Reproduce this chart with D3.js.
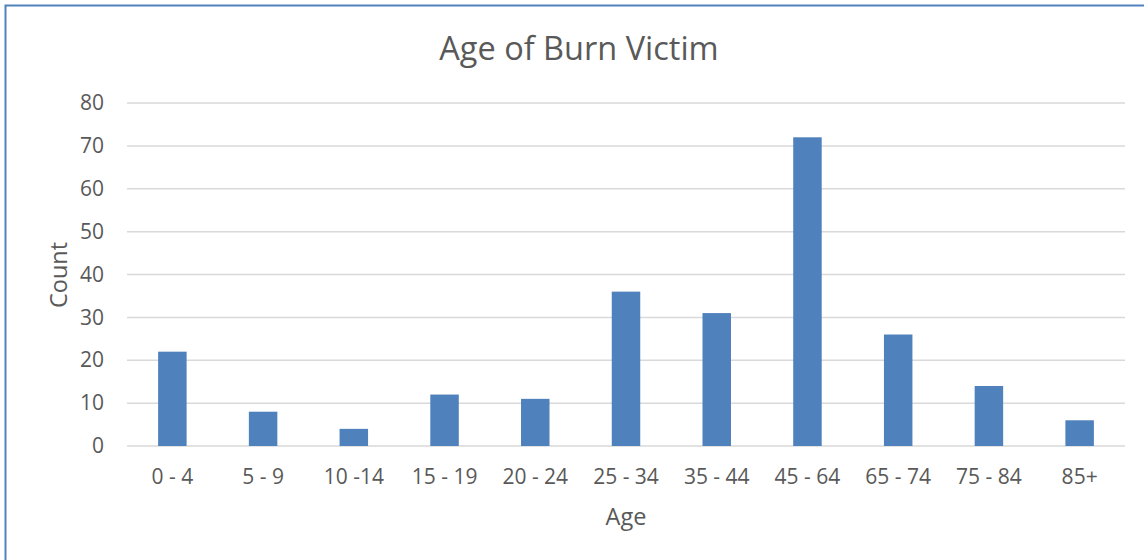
<!DOCTYPE html>
<html><head><meta charset="utf-8">
<script src="https://cdn.jsdelivr.net/npm/d3@7"></script>
<style>body{margin:0;background:#fff}svg{display:block}</style>
</head><body>
<script>
const categories = ["0 - 4","5 - 9","10 -14","15 - 19","20 - 24","25 - 34","35 - 44","45 - 64","65 - 74","75 - 84","85+"];
const counts = [22, 8, 4, 12, 11, 36, 31, 72, 26, 14, 6];
const yTicks = [0,10,20,30,40,50,60,70,80];
const title = "Age of Burn Victim";
const xTitle = "Age";
const yTitle = "Count";

(function () {
const W = 1144, H = 560;
const font = "'Open Sans', 'Liberation Sans', sans-serif";
const textColor = "#595959";
const svg = d3.select("body").append("svg").attr("width", W).attr("height", H);
svg.append("rect").attr("width", W).attr("height", H).attr("fill", "#fff");
svg.append("rect").attr("x", 5.5).attr("y", 5.5).attr("width", W + 20).attr("height", H + 20)
  .attr("fill", "none").attr("stroke", "#4f81bd").attr("stroke-width", 2);

const pLeft = 127, pRight = 1125, pTop = 103, pBottom = 446;
const x = d3.scaleBand().domain(categories).range([pLeft, pRight]).paddingInner(0.686).paddingOuter(0.343);
const y = d3.scaleLinear().domain([0, 80]).range([pBottom, pTop]);

svg.append("g").selectAll("line").data(yTicks).join("line")
  .attr("x1", pLeft).attr("x2", pRight)
  .attr("y1", d => y(d)).attr("y2", d => y(d))
  .attr("stroke", "#d9d9d9").attr("stroke-width", 1.5);

svg.append("g").selectAll("rect").data(counts).join("rect")
  .attr("x", (d,i) => x(categories[i]))
  .attr("width", x.bandwidth())
  .attr("y", d => y(d))
  .attr("height", d => y(0) - y(d))
  .attr("fill", "#4f81bd");

const yAxis = svg.append("g").attr("transform", `translate(${pLeft},0)`)
  .call(d3.axisLeft(y).tickValues(yTicks).tickSize(0).tickPadding(23));
yAxis.select(".domain").remove();
yAxis.selectAll("text").attr("font-family", font).attr("font-size", 21).attr("fill", textColor);

const xAxis = svg.append("g").attr("transform", `translate(0,${pBottom})`)
  .call(d3.axisBottom(x).tickSize(0).tickPadding(23));
xAxis.select(".domain").remove();
xAxis.selectAll("text").attr("font-family", font).attr("font-size", 21).attr("fill", textColor);

svg.append("text").attr("x", 579).attr("y", 60).attr("text-anchor", "middle")
  .attr("font-family", font).attr("font-size", 32.5).attr("fill", textColor).text(title);
svg.append("text").attr("x", 626).attr("y", 525).attr("text-anchor", "middle")
  .attr("font-family", font).attr("font-size", 23.5).attr("fill", textColor).text(xTitle);
svg.append("text").attr("transform", "translate(67,275) rotate(-90)").attr("text-anchor", "middle")
  .attr("font-family", font).attr("font-size", 23.5).attr("fill", textColor).text(yTitle);
})();
</script>
</body></html>
